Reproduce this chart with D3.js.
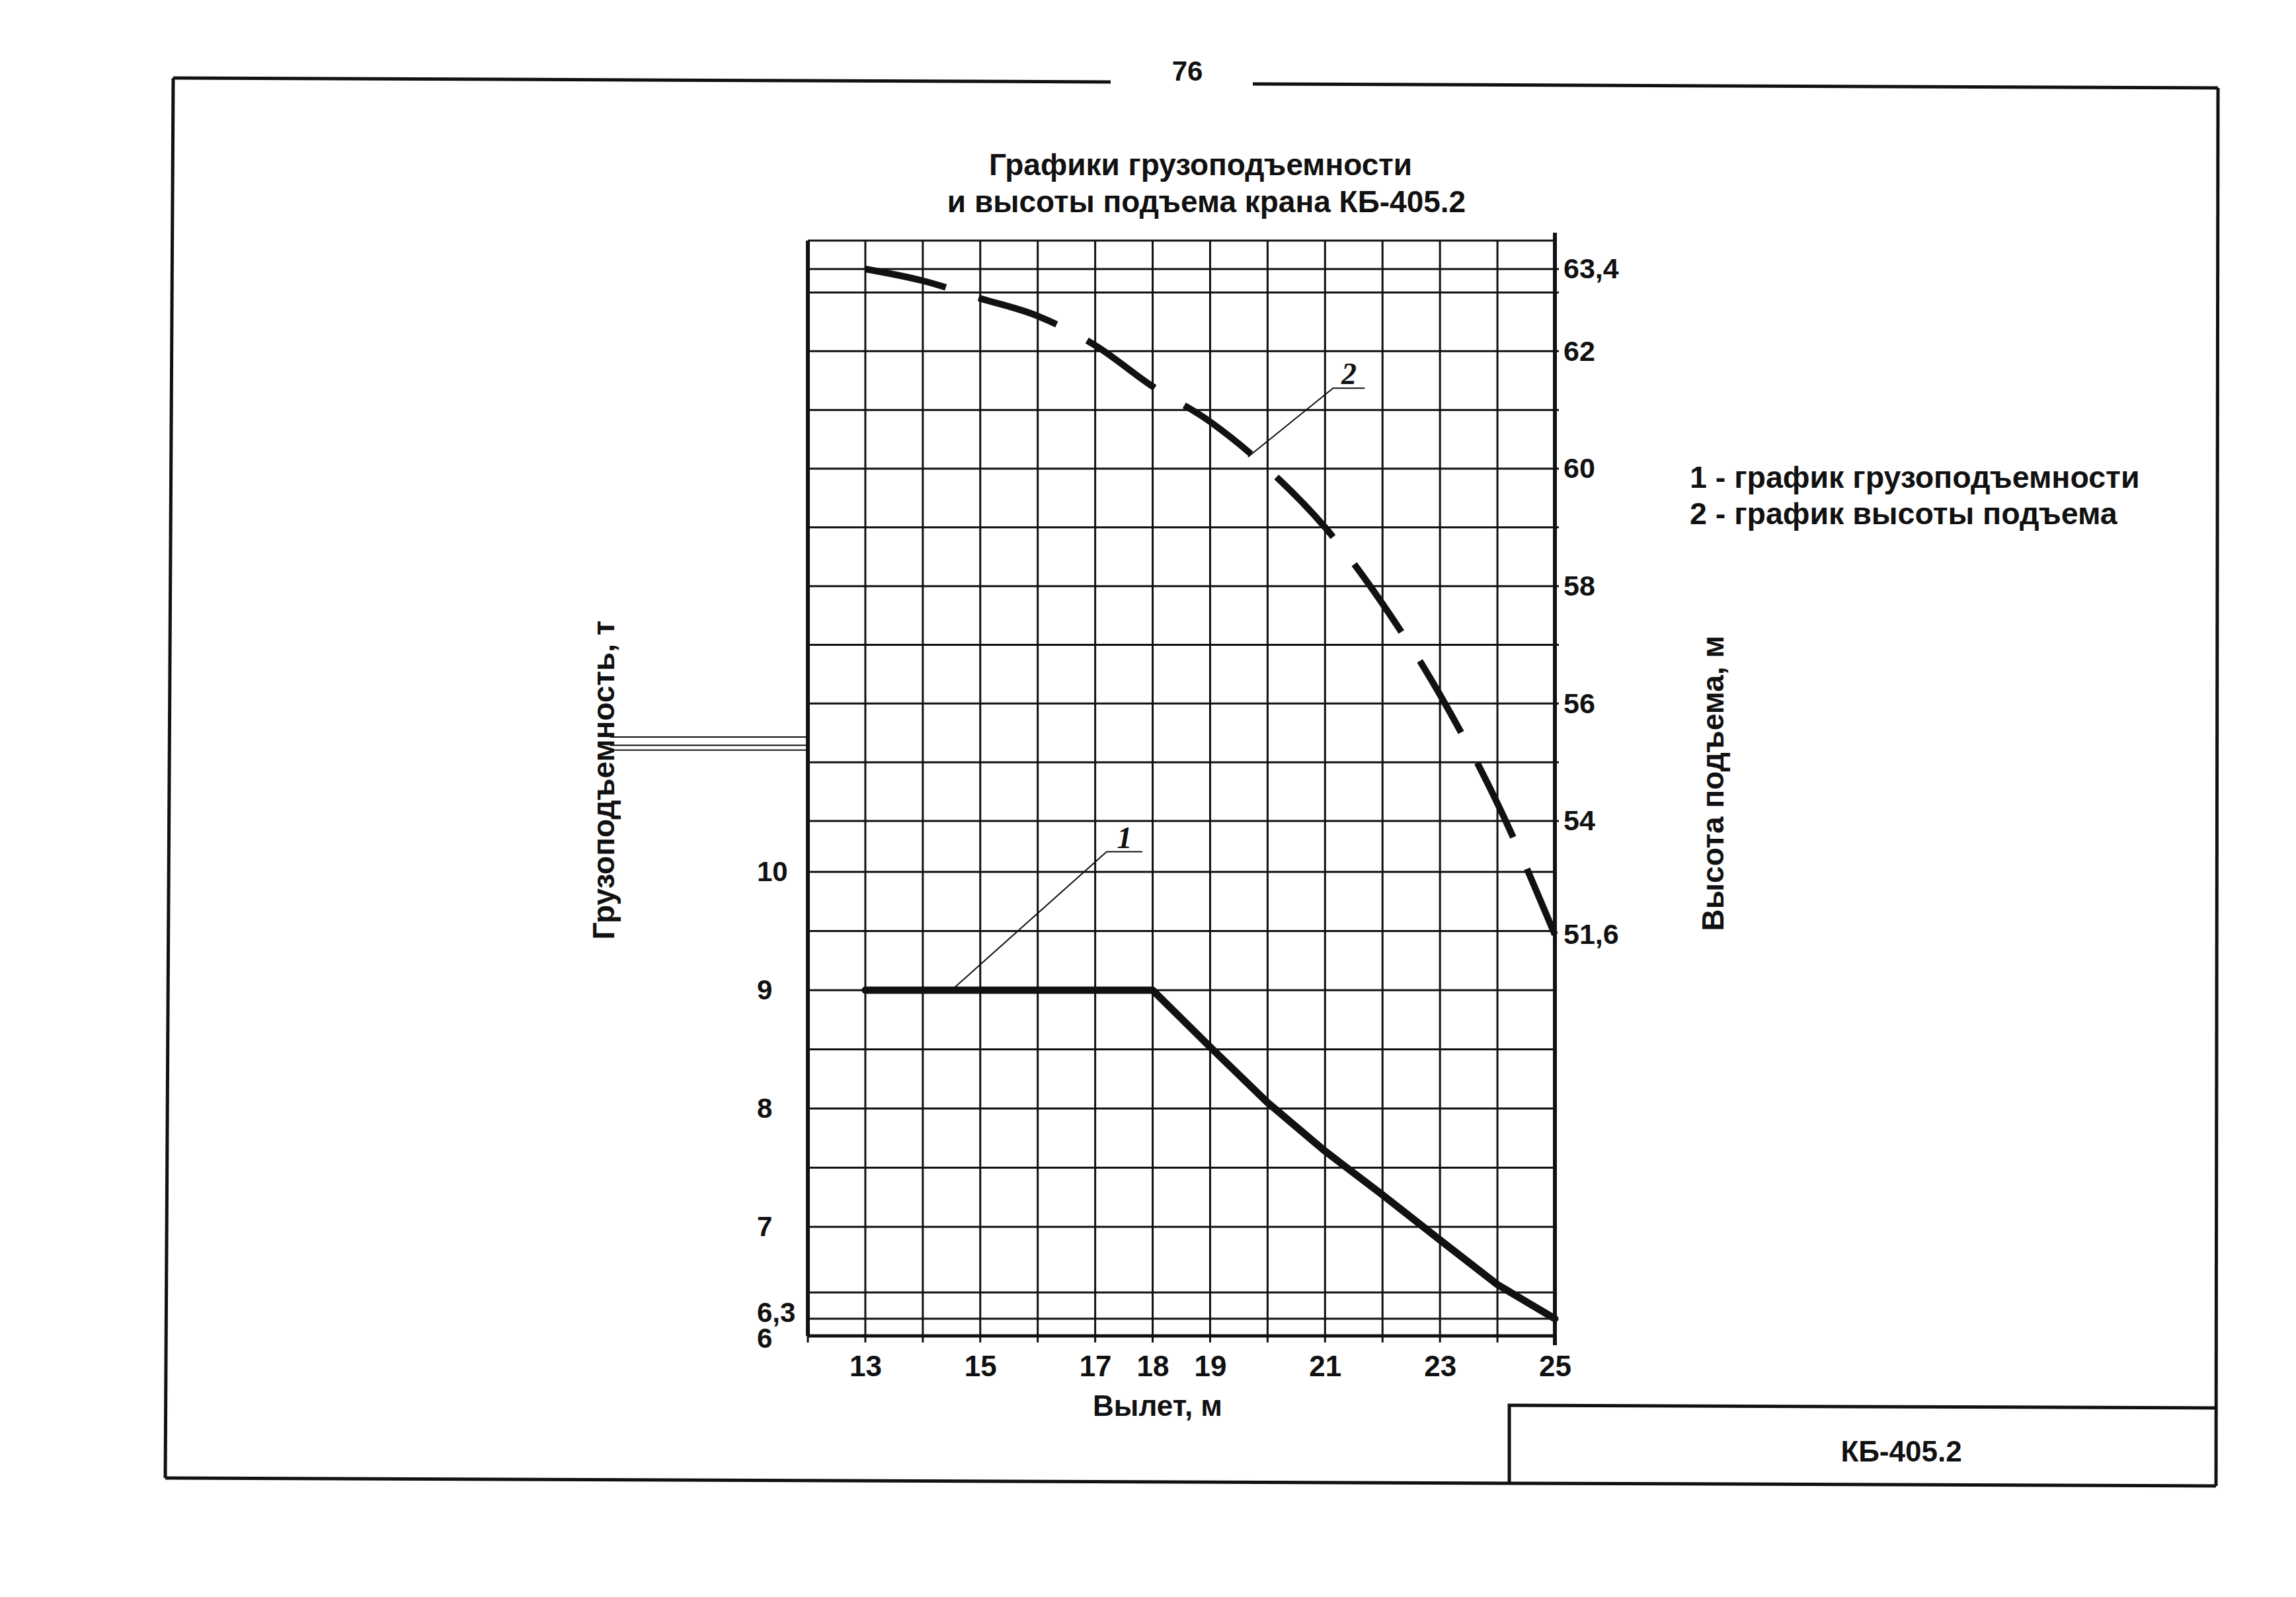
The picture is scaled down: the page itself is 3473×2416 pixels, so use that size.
<!DOCTYPE html>
<html>
<head>
<meta charset="utf-8">
<script src="https://cdn.jsdelivr.net/npm/d3@7"></script>
<style>
body { margin: 0; background: #fff; }
svg text { font-family: "Liberation Sans", Arial, sans-serif; font-weight: bold; fill: #111; }
</style>
</head>
<body>
<div id="chart"></div>
<script>
// вылет, м
var reach = [13, 14, 15, 16, 17, 18, 19, 20, 21, 22, 23, 24, 25];
// график 1 - грузоподъемность, т
var capacity = [9, 9, 9, 9, 9, 9, 8.52, 8.05, 7.64, 7.27, 6.9, 6.56, 6.3];
// график 2 - высота подъема, м
var liftHeight = [63.4, 63.2, 62.9, 62.6, 62.1, 61.4, 60.8, 60.0, 59.0, 57.7, 56.15, 54.3, 51.6];

var reachTicks = [13, 15, 17, 18, 19, 21, 23, 25];
var capacityTicks = [6, 6.3, 7, 8, 9, 10];
var heightTicks = [51.6, 54, 56, 58, 60, 62, 63.4];

var reachGrid = [12, 13, 14, 15, 16, 17, 18, 19, 20, 21, 22, 23, 24, 25];
var capacityGrid = [6, 6.3, 6.5, 7, 7.5, 8, 8.5, 9, 9.5, 10];
var heightGrid = [54, 55, 56, 57, 58, 59, 60, 61, 62, 63, 63.4];

// выноски: [вылет, значение] начала и полки
var note1 = [[14.5, 9], [17.2, 10.17], [17.82, 10.17]];
var note2 = [[19.66, 60.2], [21.14, 61.37], [21.69, 61.37]];

var W = 3473, H = 2416;
var plotTop = 364, plotBottom = 2021;

var svg = d3.select("#chart").append("svg").attr("width", W).attr("height", H)
    .style("background", "#fff");

var x = d3.scaleLinear().domain([12, 25]).range([1222, 2352]);
// шкалы нарисованы от руки - неравномерные участки
var yCap = d3.scaleLinear().domain([6, 6.3, 7, 10]).range([2021, 1995, 1856, 1319]);
var yH = d3.scaleLinear().domain([51.6, 54, 63.4]).range([1414, 1242, 407]);

var fmt = d3.formatLocale({decimal: ",", thousands: " ", grouping: [3], currency: ["", ""]}).format("~g");

// рамка листа
var frame = svg.append("g").attr("stroke", "#111").attr("stroke-width", 5).attr("fill", "none");
frame.append("line").attr("x1", 262).attr("y1", 118).attr("x2", 1680).attr("y2", 124);
frame.append("line").attr("x1", 1895).attr("y1", 127).attr("x2", 3355).attr("y2", 133);
frame.append("line").attr("x1", 3355).attr("y1", 133).attr("x2", 3352).attr("y2", 2248);
frame.append("line").attr("x1", 262).attr("y1", 118).attr("x2", 250).attr("y2", 2236);
frame.append("line").attr("x1", 250).attr("y1", 2236).attr("x2", 3352).attr("y2", 2248);
frame.append("path").attr("d", "M2283,2246 L2283,2126 L3352,2130");

svg.append("text").attr("x", 1796).attr("y", 122).attr("text-anchor", "middle")
    .style("font-size", "42px").text("76");

svg.append("text").attr("x", 2876).attr("y", 2211).attr("text-anchor", "middle")
    .style("font-size", "44px").text("КБ-405.2");

// заголовок
svg.append("text").attr("x", 1816).attr("y", 265).attr("text-anchor", "middle")
    .style("font-size", "46px").text("Графики грузоподъемности");
svg.append("text").attr("x", 1825).attr("y", 321).attr("text-anchor", "middle")
    .style("font-size", "46px").text("и высоты подъема крана КБ-405.2");

// сетка
var grid = svg.append("g").attr("stroke", "#111").attr("stroke-width", 3);
grid.selectAll(".v").data(reachGrid).join("line").attr("class", "v")
    .attr("x1", d => x(d)).attr("x2", d => x(d))
    .attr("y1", plotTop).attr("y2", plotBottom + 10);
grid.selectAll(".hc").data(capacityGrid).join("line").attr("class", "hc")
    .attr("x1", x(12)).attr("x2", x(25))
    .attr("y1", d => yCap(d)).attr("y2", d => yCap(d));
grid.selectAll(".hh").data(heightGrid).join("line").attr("class", "hh")
    .attr("x1", x(12)).attr("x2", x(25) + 6)
    .attr("y1", d => yH(d)).attr("y2", d => yH(d));
grid.append("line").attr("x1", x(12)).attr("x2", x(25)).attr("y1", plotTop).attr("y2", plotTop);

svg.append("line").attr("x1", x(12)).attr("x2", x(12)).attr("y1", plotTop).attr("y2", plotBottom)
    .attr("stroke", "#111").attr("stroke-width", 6);
svg.append("line").attr("x1", x(25)).attr("x2", x(25)).attr("y1", plotTop - 12).attr("y2", plotBottom + 14)
    .attr("stroke", "#111").attr("stroke-width", 6);
svg.append("line").attr("x1", x(12)).attr("x2", x(25)).attr("y1", plotBottom).attr("y2", plotBottom)
    .attr("stroke", "#111").attr("stroke-width", 5);

// тонкие линии у оси грузоподъемности
svg.selectAll(".thin").data([11.14, 11.07, 11.03]).join("line").attr("class", "thin")
    .attr("x1", 923).attr("x2", x(12))
    .attr("y1", d => yCap(d)).attr("y2", d => yCap(d))
    .attr("stroke", "#111").attr("stroke-width", 2);

// оси
var ax = svg.append("g").attr("transform", "translate(0," + plotBottom + ")")
    .call(d3.axisBottom(x).tickValues(reachTicks).tickSize(0).tickPadding(30).tickFormat(fmt));
ax.select(".domain").remove();
ax.selectAll("text").style("font-size", "44px");

var ayl = svg.append("g").attr("transform", "translate(" + x(12) + ",0)")
    .call(d3.axisLeft(yCap).tickValues(capacityTicks).tickSize(0).tickFormat(fmt));
ayl.select(".domain").remove();
ayl.selectAll("text").style("font-size", "42px").attr("text-anchor", "start").attr("x", -77)
    .attr("dy", d => d === 6.3 ? "0.1em" : d === 6 ? "0.42em" : "0.32em");

var ayr = svg.append("g").attr("transform", "translate(" + x(25) + ",0)")
    .call(d3.axisRight(yH).tickValues(heightTicks).tickSize(0).tickPadding(13).tickFormat(fmt));
ayr.select(".domain").remove();
ayr.selectAll("text").style("font-size", "43px");

svg.append("text").attr("x", 1751).attr("y", 2142).attr("text-anchor", "middle")
    .style("font-size", "44px").text("Вылет, м");
svg.append("text").attr("transform", "translate(929,1180) rotate(-90)").attr("text-anchor", "middle")
    .style("font-size", "46px").text("Грузоподъемность, т");
svg.append("text").attr("transform", "translate(2607,1185) rotate(-90)").attr("text-anchor", "middle")
    .style("font-size", "46px").text("Высота подъема, м");

// легенда
svg.append("text").attr("x", 2556).attr("y", 738).style("font-size", "46.5px")
    .text("1 - график грузоподъемности");
svg.append("text").attr("x", 2556).attr("y", 793).style("font-size", "46.5px")
    .text("2 - график высоты подъема");

// кривые
var capLine = d3.line().x((d, i) => x(reach[i])).y(d => yCap(d));
svg.append("path").datum(capacity).attr("d", capLine)
    .attr("fill", "none").attr("stroke", "#111").attr("stroke-width", 11)
    .attr("stroke-linejoin", "round").attr("stroke-linecap", "round");

var hLine = d3.line().curve(d3.curveMonotoneX).x((d, i) => x(reach[i])).y(d => yH(d));
svg.append("path").datum(liftHeight).attr("d", hLine)
    .attr("fill", "none").attr("stroke", "#111").attr("stroke-width", 10)
    .attr("stroke-dasharray", "125,52");

// выноски
function leader(pts, ys, label) {
    var p = pts.map(d => [x(d[0]), ys(d[1])]);
    svg.append("path").attr("d", d3.line()(p))
        .attr("fill", "none").attr("stroke", "#111").attr("stroke-width", 2);
    svg.append("text").attr("x", (p[1][0] + p[2][0]) / 2).attr("y", p[1][1] - 6)
        .attr("text-anchor", "middle")
        .style("font-family", "'Liberation Serif', serif").style("font-style", "italic")
        .style("font-size", "46px").text(label);
}
leader(note1, yCap, "1");
leader(note2, yH, "2");
</script>
</body>
</html>
